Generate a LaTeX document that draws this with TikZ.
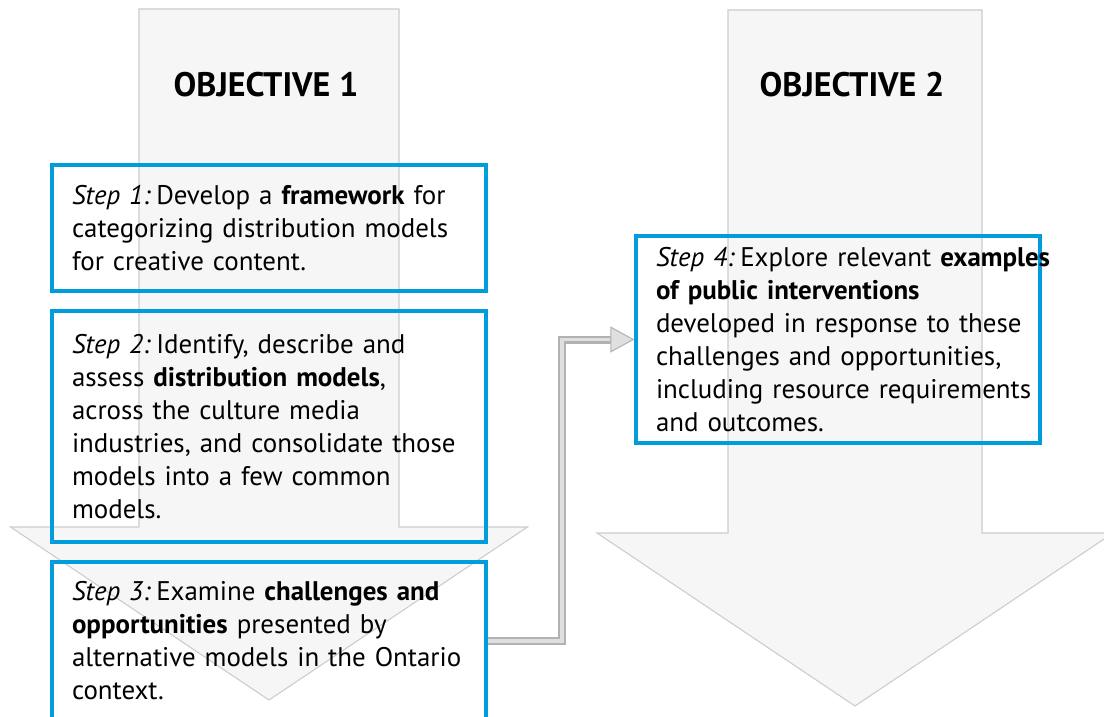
\documentclass[tikz,border=0pt]{standalone}
\usepackage{fontspec}
\setmainfont{PT Sans}
\usetikzlibrary{arrows.meta}
\definecolor{stepblue}{RGB}{0,157,220}
\def\objectives{269/9/527/700/130/258.5/obj1/OBJECTIVE 1, 855/10/533/706/127/258/obj2/OBJECTIVE 2}
\def\steptag#1{{\itshape Step #1:}\hspace{0.22em}}
\tikzstyle{bigarrow}=[fill=gray!7,draw=gray!40,line width=0.8pt,line join=miter]
\tikzstyle{objective}=[font=\bfseries\fontsize{25.5}{30}\selectfont,inner sep=0pt]
\tikzstyle{stepbox}=[draw=stepblue,line width=2.4pt,align=left,inner xsep=15pt,inner ysep=0pt,font=\fontsize{20.2}{24.75}\selectfont]
\tikzstyle{link}=[draw=gray!60,line width=6pt,-{Triangle[length=18pt,width=19.5pt,fill=gray!25,line width=0.8pt]}]
\tikzstyle{link core}=[draw=gray!25,line width=2.6pt,shorten >=18pt]

\begin{document}
\begin{tikzpicture}[x=0.75pt,y=-0.75pt]
  \useasboundingbox (0,0) rectangle (1104,717);

  % The two big arrows and their titles
  \foreach \cx/\ytop/\neck/\tip/\sw/\hw/\name/\txt in \objectives {
    \draw[bigarrow] (\cx-\sw,\ytop) -- (\cx+\sw,\ytop) -- (\cx+\sw,\neck) -- (\cx+\hw,\neck)
      -- (\cx,\tip) -- (\cx-\hw,\neck) -- (\cx-\sw,\neck) -- cycle;
    \node[objective] (\name) at (\cx-3,85) {\txt};
  }

  % The steps of objective 1
  \node[stepbox,text width=295.5pt,minimum height=94.5pt] (step1) at (269,228)
    {\steptag{1}Develop a \textbf{framework} for\\ categorizing distribution models\\ for creative content.};
  \node[stepbox,text width=295.5pt,minimum height=173.25pt] (step2) at (269,426.5)
    {\steptag{2}Identify, describe and\\ assess \textbf{distribution models},\\ across the culture media\\ industries, and consolidate those\\ models into a few common\\ models.};
  \node[stepbox,text width=295.5pt,minimum height=118.5pt] (step3) at (269,641)
    {\steptag{3}Examine \textbf{challenges and}\\ \textbf{opportunities} presented by\\ alternative models in the Ontario\\ context.};

  % The step of objective 2 (long lines kept whole)
  \node[stepbox,text width=273pt,minimum height=155.25pt] (step4) at (838,339.5)
    {\mbox{\steptag{4}Explore relevant \textbf{examples}}\\ \textbf{of public interventions}\\ \mbox{developed in response to these}\\ \mbox{challenges and opportunities,}\\ \mbox{including resource requirements}\\ and outcomes.};

  % Step 3 leads on to step 4
  \coordinate (bend) at (562,339.5);
  \path[link] (step3.east) -| (bend) -- (step4.west);
  \path[link core] (step3.east) -| (bend) -- (step4.west);
\end{tikzpicture}
\end{document}
